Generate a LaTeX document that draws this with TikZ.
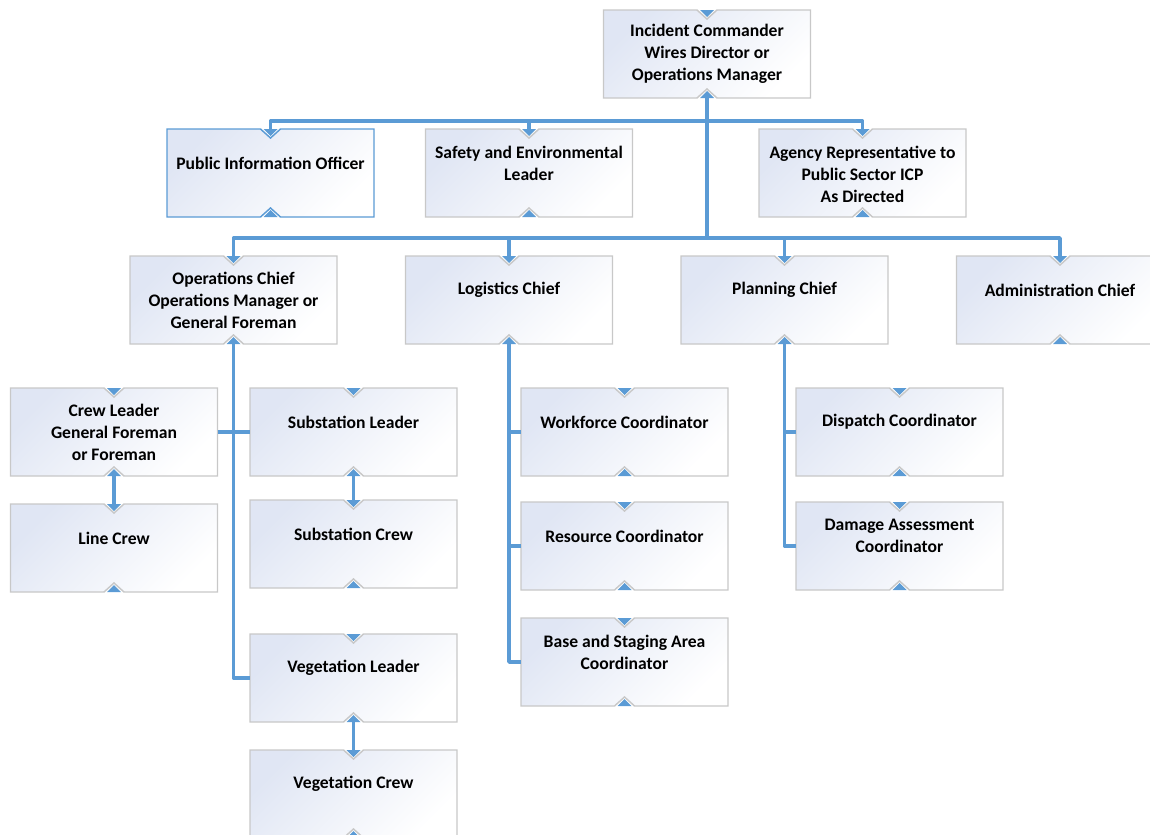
\documentclass[tikz,border=0pt]{standalone}
\usepackage{fontspec}
\setmainfont{Carlito}
\usetikzlibrary{calc}

\definecolor{linkblue}{RGB}{91,155,213}
\definecolor{boxedge}{RGB}{200,200,200}
\definecolor{boxtint}{RGB}{224,230,244}

\tikzset{
  orgbox/.style={rectangle, draw=none, inner sep=0pt, outer sep=0pt,
    minimum width=155.25pt, minimum height=66pt},
  lbl/.style={align=center, inner sep=0pt,
    font=\fontsize{13.2}{16.5}\selectfont\bfseries},
  link/.style={draw=linkblue, line width=2.7pt, line join=round},
  boxshade/.style={top color=boxtint, bottom color=white, shading angle=45,
    line width=1.1pt, line join=miter}
}

% notched outline with the two blue notch triangles
\newcommand\notchbox[2]{%
  \path[boxshade, draw=#2]
    (#1.north west) -- ($(#1.north)+(-10,0)$) -- ($(#1.north)+(0,9)$)
    -- ($(#1.north)+(10,0)$) -- (#1.north east) -- (#1.south east)
    -- ($(#1.south)+(10,0)$) -- ($(#1.south)+(0,-9)$)
    -- ($(#1.south)+(-10,0)$) -- (#1.south west) -- cycle;
}

\begin{document}
\begin{tikzpicture}[x=0.75pt, y=-0.75pt]
\useasboundingbox (0,0) rectangle (1150,835);
\clip (0,0) rectangle (1150,835);

% boxes (centre positions)
\node[orgbox] (ic)     at (707,54)    {};
\node[orgbox] (pio)    at (270.5,173) {};
\node[orgbox] (safe)   at (529,173)   {};
\node[orgbox] (agency) at (862.5,173) {};
\node[orgbox] (ops)    at (233.5,300) {};
\node[orgbox] (log)    at (509,300)   {};
\node[orgbox] (plan)   at (784.5,300) {};
\node[orgbox] (admin)  at (1060,300)  {};
\node[orgbox] (crew)   at (114,432)   {};
\node[orgbox] (line)   at (114,548)   {};
\node[orgbox] (subl)   at (353.5,432) {};
\node[orgbox] (subc)   at (353.5,544) {};
\node[orgbox] (vegl)   at (353.5,678) {};
\node[orgbox] (vegc)   at (353.5,794) {};
\node[orgbox] (work)   at (624.5,432) {};
\node[orgbox] (res)    at (624.5,546) {};
\node[orgbox] (base)   at (624.5,662) {};
\node[orgbox] (disp)   at (899.5,432) {};
\node[orgbox] (dmg)    at (899.5,546) {};

\foreach \n in {ic,safe,agency,ops,log,plan,admin,crew,line,subl,subc,vegl,vegc,work,res,base,disp,dmg}
  {\notchbox{\n}{boxedge}}
\notchbox{pio}{linkblue}

% connectors
\coordinate (busA) at (707,121);
\coordinate (busB) at (707,238);
\draw[link] (ic.south) -- (busB);
\draw[link] (pio.north) |- (busA) -| (agency.north);
\draw[link] (safe.north) -- (safe.north |- busA);
\draw[link] (ops.north) |- (busB) -| (admin.north);
\draw[link] (log.north) -- (log.north |- busB);
\draw[link] (plan.north) -- (plan.north |- busB);

\draw[link] (ops.south) |- (vegl.west);
\draw[link] (crew.east) -- (subl.west);
\draw[link] (crew.south) -- (line.north);
\draw[link] (subl.south) -- (subc.north);
\draw[link] (vegl.south) -- (vegc.north);

\draw[link] (log.south) |- (base.west);
\draw[link] (log.south |- work.west) -- (work.west);
\draw[link] (log.south |- res.west) -- (res.west);

\draw[link] (plan.south) |- (dmg.west);
\draw[link] (plan.south |- disp.west) -- (disp.west);

% notch triangles drawn over connector ends
\foreach \n in {ic,pio,safe,agency,ops,log,plan,admin,crew,line,subl,subc,vegl,vegc,work,res,base,disp,dmg}{
  \fill[linkblue] ($(\n.north)+(-7,0)$) -- ($(\n.north)+(7,0)$) -- ($(\n.north)+(0,7)$) -- cycle;
  \fill[linkblue] ($(\n.south)+(-7,0)$) -- ($(\n.south)+(7,0)$) -- ($(\n.south)+(0,-7)$) -- cycle;
}

% labels
\node[lbl] (ic-t)     at ($(ic.north)+(0,44)$)     {Incident Commander\\ Wires Director or\\Operations Manager};
\node[lbl] (pio-t)    at ($(pio.north)+(0,34)$)    {Public Information Officer};
\node[lbl] (safe-t)   at ($(safe.north)+(0,34)$)   {Safety and Environmental\\Leader};
\node[lbl] (agency-t) at ($(agency.north)+(0,45)$) {Agency Representative to\\Public Sector ICP\\As Directed};
\node[lbl] (ops-t)    at ($(ops.north)+(0,44)$)    {Operations Chief\\Operations Manager or\\General Foreman};
\node[lbl] (log-t)    at ($(log.north)+(0,34)$)    {Logistics Chief};
\node[lbl] (plan-t)   at ($(plan.north)+(0,34)$)   {Planning Chief};
\node[lbl] (admin-t)  at ($(admin.north)+(0,34)$)  {Administration Chief};
\node[lbl] (crew-t)   at ($(crew.north)+(0,44)$)   {Crew Leader\\General Foreman\\or Foreman};
\node[lbl] (line-t)   at ($(line.north)+(0,34)$)   {Line Crew};
\node[lbl] (subl-t)   at ($(subl.north)+(0,34)$)   {Substation Leader};
\node[lbl] (subc-t)   at ($(subc.north)+(0,34)$)   {Substation Crew};
\node[lbl] (vegl-t)   at ($(vegl.north)+(0,34)$)   {Vegetation Leader};
\node[lbl] (vegc-t)   at ($(vegc.north)+(0,34)$)   {Vegetation Crew};
\node[lbl] (work-t)   at ($(work.north)+(0,34)$)   {Workforce Coordinator};
\node[lbl] (res-t)    at ($(res.north)+(0,34)$)    {Resource Coordinator};
\node[lbl] (base-t)   at ($(base.north)+(0,34)$)   {Base and Staging Area\\Coordinator};
\node[lbl] (disp-t)   at ($(disp.north)+(0,34)$)   {Dispatch Coordinator};
\node[lbl] (dmg-t)    at ($(dmg.north)+(0,34)$)    {Damage Assessment\\Coordinator};
\end{tikzpicture}
\end{document}
